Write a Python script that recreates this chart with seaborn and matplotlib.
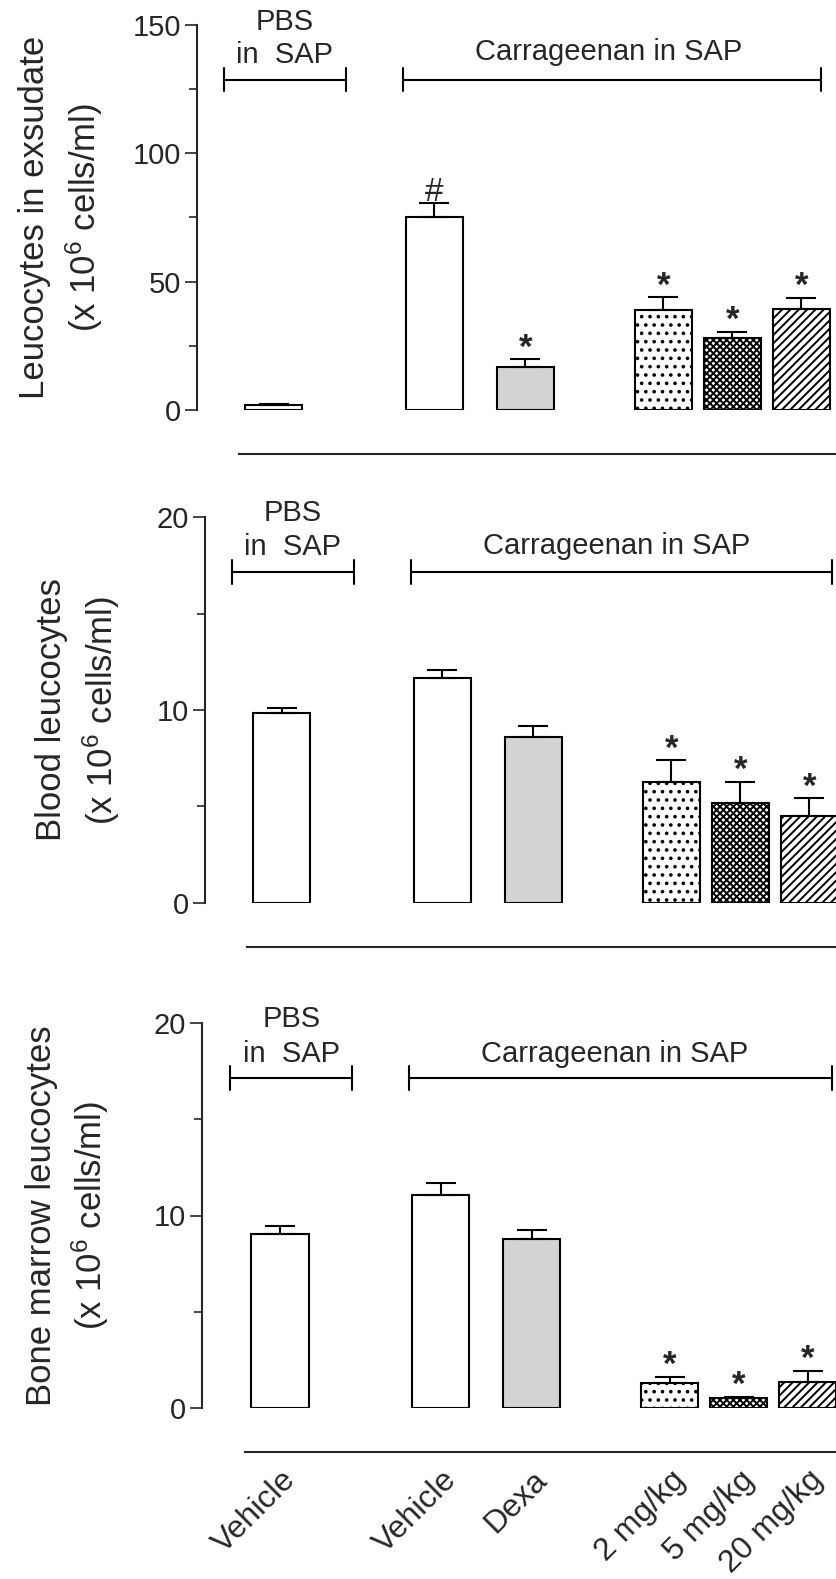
import numpy as np
import matplotlib
matplotlib.use('Agg')
import matplotlib.pyplot as plt
import matplotlib.transforms as mtransforms
from matplotlib.ticker import MultipleLocator
import seaborn as sns

# values (mean and SEM, x 10^6 cells/ml)
groups = ['Vehicle', 'Vehicle', 'Dexa', '2 mg/kg', '5 mg/kg', '20 mg/kg']

exsudate_mean = [1.8, 75.0, 16.9, 39.0, 27.9, 39.2]
exsudate_sem = [0.4, 5.5, 2.8, 5.0, 2.6, 4.6]
exsudate_marks = ['', '#', '*', '*', '*', '*']

blood_mean = [9.85, 11.64, 8.62, 6.29, 5.17, 4.51]
blood_sem = [0.25, 0.43, 0.55, 1.12, 1.12, 0.91]
blood_marks = ['', '', '', '*', '*', '*']

marrow_mean = [9.04, 11.06, 8.78, 1.28, 0.50, 1.37]
marrow_sem = [0.41, 0.61, 0.47, 0.35, 0.09, 0.57]
marrow_marks = ['', '', '', '*', '*', '*']

ylabels = ['Leucocytes in exsudate\n(x 10$^6$ cells/ml)',
           'Blood leucocytes\n(x 10$^6$ cells/ml)',
           'Bone marrow leucocytes\n(x 10$^6$ cells/ml)']

# bar layout (groups separated by gaps) and bar styles
xpos = [0, 2.33, 3.65, 5.65, 6.65, 7.65]
fills = ['white', 'white', '#d3d3d3', 'white', 'white', 'white']
hatches = ['', '', '', '..', 'xxxxx', '////']

sns.set_style('ticks')
plt.rcParams['font.family'] = ['Liberation Sans', 'DejaVu Sans']
plt.rcParams['mathtext.default'] = 'regular'
plt.rcParams['hatch.linewidth'] = 1.4
plt.rcParams['axes.linewidth'] = 1.5

fig = plt.figure(figsize=(8.36, 15.79), dpi=100)
W, H = 836, 1579

panels = [
    dict(mean=exsudate_mean, sem=exsudate_sem, marks=exsudate_marks,
         left=197, top=25, bottom=410, xlim=(-1.109, 8.152), ylim=150, major=50, minor=25,
         by=128.6, bh=4.5, t_pbs=151.1, t_in=138.3, t_car=139.5, lab_x=-0.144, carr_end=7.94),
    dict(mean=blood_mean, sem=blood_sem, marks=blood_marks,
         left=205, top=517, bottom=903, xlim=(-1.109, 8.036), ylim=20, major=10, minor=5,
         by=17.17, bh=0.62, t_pbs=20.2, t_in=18.46, t_car=18.5, lab_x=-0.1315, carr_end=7.98),
    dict(mean=marrow_mean, sem=marrow_sem, marks=marrow_marks,
         left=202, top=1023, bottom=1408, xlim=(-1.13, 8.058), ylim=20, major=10, minor=5,
         by=17.14, bh=0.62, t_pbs=20.2, t_in=18.4, t_car=18.4, lab_x=-0.143, carr_end=8.0),
]

for i, p in enumerate(panels):
    ax = fig.add_axes([p['left'] / W, 1 - p['bottom'] / H,
                       (W - p['left']) / W, (p['bottom'] - p['top']) / H])
    sns.barplot(x=xpos, y=p['mean'], native_scale=True, orient='x', width=0.83,
                color='white', edgecolor='black', linewidth=1.5, errorbar=None, ax=ax)
    for bar, fc, h in zip(ax.patches, fills, hatches):
        bar.set_facecolor(fc)
        bar.set_hatch(h)
        bar.set_edgecolor('black')
    ax.errorbar(xpos, p['mean'], yerr=[np.zeros(len(p['sem'])), p['sem']], fmt='none',
                ecolor='black', elinewidth=1.5, capsize=10.5, capthick=1.5, zorder=3)

    for x, m, s, mk in zip(xpos, p['mean'], p['sem'], p['marks']):
        if mk == '*':
            ax.annotate(mk, (x, m + s), xytext=(0, 1), textcoords='offset points',
                        ha='center', va='baseline', fontsize=25, fontweight='bold')
        elif mk:
            ax.annotate(mk, (x, m + s), xytext=(0, 2), textcoords='offset points',
                        ha='center', va='baseline', fontsize=24)

    # group brackets
    lw = 1.5
    for x0, x1 in [(-0.72, 1.05), (1.87, p['carr_end'])]:
        ax.plot([x0, x1], [p['by'], p['by']], color='black', lw=lw, clip_on=False)
        for xe in (x0, x1):
            ax.plot([xe, xe], [p['by'] - p['bh'], p['by'] + p['bh']], color='black',
                    lw=lw, clip_on=False)
    ax.text(0.165, p['t_pbs'], 'PBS', ha='center', va='center', fontsize=21)
    ax.text(0.165, p['t_in'], 'in  SAP', ha='center', va='center', fontsize=21)
    ax.text(4.85, p['t_car'], 'Carrageenan in SAP', ha='center', va='center', fontsize=21)

    ax.set_xlim(*p['xlim'])
    ax.set_ylim(0, p['ylim'])
    ax.yaxis.set_major_locator(MultipleLocator(p['major']))
    ax.yaxis.set_minor_locator(MultipleLocator(p['minor']))
    ax.tick_params(axis='y', which='major', length=8.6, width=1.2, labelsize=21, pad=3)
    ax.tick_params(axis='y', which='minor', length=5.5, width=1.2)
    ax.tick_params(axis='x', length=0)

    sns.despine(ax=ax)
    ax.spines['bottom'].set_position(('outward', 31.7))
    ax.spines['bottom'].set_bounds(-0.5, p['xlim'][1])
    ax.spines['left'].set_bounds(0, p['ylim'])

    ax.set_ylabel(ylabels[i], fontsize=25, linespacing=1.38)
    ax.yaxis.set_label_coords(p['lab_x'], 0.5)

    ax.set_xticks(xpos)
    if i == 2:
        ax.set_xticklabels(groups, rotation=45, ha='right', va='center',
                           rotation_mode='anchor', fontsize=23)
        ax.tick_params(axis='x', pad=17)
        off = mtransforms.ScaledTranslation(0.11, 0, fig.dpi_scale_trans)
        for lab in ax.get_xticklabels():
            lab.set_transform(lab.get_transform() + off)
    else:
        ax.set_xticklabels([])
    ax.set_xlabel('')

fig.savefig('out.png', dpi=100)
